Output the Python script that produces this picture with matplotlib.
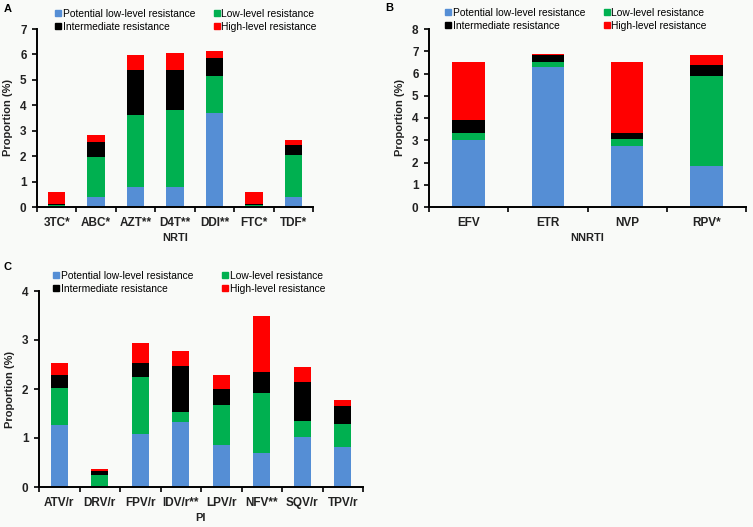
import matplotlib
matplotlib.use("Agg")
import matplotlib.pyplot as plt
import numpy as np
from matplotlib.lines import Line2D

plt.rcParams['font.family'] = ['Liberation Sans', 'DejaVu Sans']

series = ["Potential low-level resistance", "Low-level resistance",
          "Intermediate resistance", "High-level resistance"]
colors = ["#558ed5", "#00b050", "#000000", "#ff0000"]

# Panel A: NRTI
nrti_cats = ["3TC*", "ABC*", "AZT**", "D4T**", "DDI**", "FTC*", "TDF*"]
nrti_potential = [0.02, 0.38, 0.77, 0.77, 3.70, 0.02, 0.38]
nrti_low = [0.06, 1.57, 2.86, 3.03, 1.46, 0.06, 1.66]
nrti_inter = [0.05, 0.59, 1.77, 1.60, 0.71, 0.05, 0.40]
nrti_high = [0.45, 0.28, 0.58, 0.65, 0.28, 0.45, 0.18]

# Panel B: NNRTI
nnrti_cats = ["EFV", "ETR", "NVP", "RPV*"]
nnrti_potential = [3.03, 6.29, 2.73, 1.83]
nnrti_low = [0.30, 0.24, 0.31, 4.04]
nnrti_inter = [0.60, 0.29, 0.29, 0.53]
nnrti_high = [2.57, 0.04, 3.17, 0.45]

# Panel C: PI
pi_cats = ["ATV/r", "DRV/r", "FPV/r", "IDV/r**", "LPV/r", "NFV**", "SQV/r", "TPV/r"]
pi_potential = [1.26, 0.02, 1.09, 1.32, 0.85, 0.69, 1.03, 0.81]
pi_low = [0.76, 0.23, 1.16, 0.22, 0.83, 1.22, 0.32, 0.48]
pi_inter = [0.26, 0.07, 0.29, 0.93, 0.33, 0.44, 0.79, 0.37]
pi_high = [0.26, 0.04, 0.40, 0.30, 0.27, 1.15, 0.30, 0.11]

BG = "#f9faf8"
W, H = 753, 527
fig = plt.figure(figsize=(W / 100, H / 100), dpi=100, facecolor=BG)


def px_axes(left, right, top, bottom):
    return fig.add_axes([left / W, 1 - bottom / H, (right - left) / W, (bottom - top) / H])


def draw_panel(ax, cats, layers, ymax, xlabel, width):
    x = np.arange(len(cats))
    bottom = np.zeros(len(cats))
    for vals, c, name in zip(layers, colors, series):
        v = np.array(vals)
        ax.bar(x, v, width=width, bottom=bottom, color=c, label=name, linewidth=0)
        bottom += v
    ax.set_facecolor(BG)
    ax.set_xlim(-0.5, len(cats) - 0.5)
    ax.set_ylim(0, ymax)
    ax.set_yticks(range(0, ymax + 1))
    ax.set_xticks(x)
    ax.set_xticklabels(cats, fontsize=8.5, fontweight='bold', color='#222222')
    ax.tick_params(axis='x', length=0, pad=7)
    ax.set_xticks(np.arange(-0.5, len(cats) + 0.5, 1), minor=True)
    ax.tick_params(axis='x', which='minor', length=3.5, width=1.2, direction='out')
    ax.tick_params(axis='y', length=3.5, width=1.2, labelsize=8.5, pad=4)
    for lab in ax.get_yticklabels():
        lab.set_fontweight('bold')
        lab.set_color('#222222')
    for s in ['top', 'right']:
        ax.spines[s].set_visible(False)
    for s in ['left', 'bottom']:
        ax.spines[s].set_linewidth(1.4)
    ax.set_ylabel("Proportion (%)", fontsize=8, fontweight='bold', labelpad=5, color='#222222')
    ax.set_xlabel(xlabel, fontsize=8, fontweight='bold', labelpad=3, color='#222222')


def add_legend(x, y, colspace):
    handles = [Line2D([], [], marker='s', linestyle='none', color=c, markersize=4.5)
               for c in colors]
    order = [0, 2, 1, 3]
    fig.legend([handles[i] for i in order], [series[i] for i in order],
               loc='upper left', bbox_to_anchor=(x / W, 1 - y / H), ncol=2,
               frameon=False, fontsize=7.4, handlelength=0.6, handletextpad=0.15,
               columnspacing=colspace, labelspacing=0.3, borderaxespad=0, borderpad=0)


axA = px_axes(37, 313, 29, 207)
draw_panel(axA, nrti_cats, [nrti_potential, nrti_low, nrti_inter, nrti_high], 7, "NRTI", 0.44)
axB = px_axes(429, 746, 29, 207)
draw_panel(axB, nnrti_cats, [nnrti_potential, nnrti_low, nnrti_inter, nnrti_high], 8, "NNRTI", 0.41)
axC = px_axes(39, 363, 291, 487)
draw_panel(axC, pi_cats, [pi_potential, pi_low, pi_inter, pi_high], 4, "PI", 0.41)

add_legend(55, 9, 1.8)
add_legend(445, 8, 1.8)
add_legend(53, 271, 2.85)

fig.text(4 / W, 1 - 4 / H, "A", fontsize=8, fontweight='bold', va='top', ha='left')
fig.text(385 / W, 1 - 3 / H, "B", fontsize=8, fontweight='bold', va='top', ha='left')
fig.text(3 / W, 1 - 262 / H, "C", fontsize=8, fontweight='bold', va='top', ha='left')

fig.savefig("out.png", dpi=100, facecolor=BG)
